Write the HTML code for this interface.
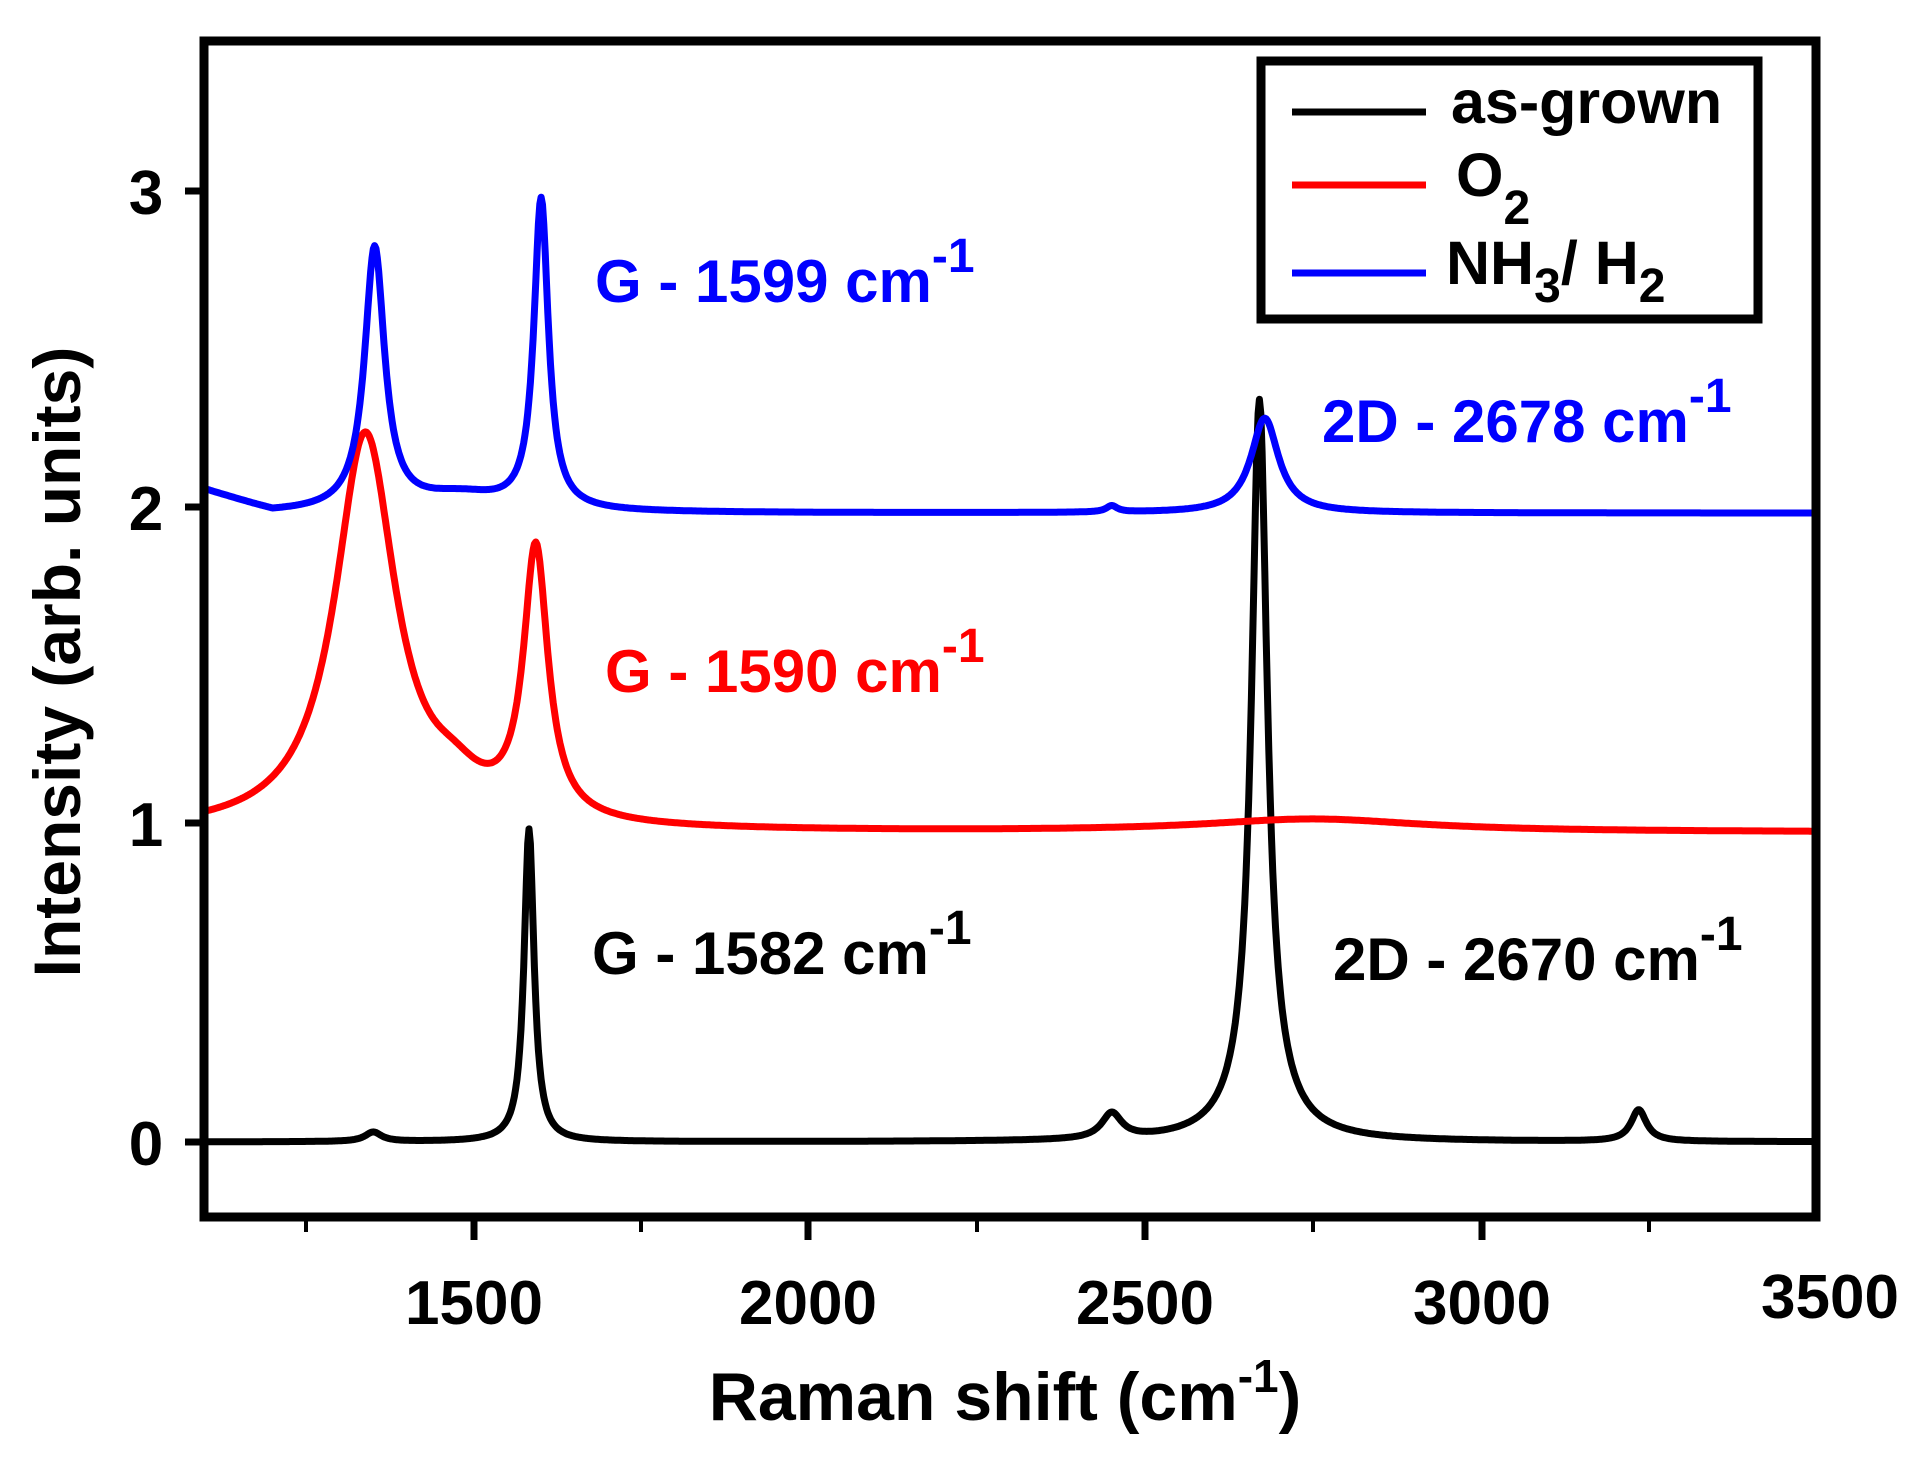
<!DOCTYPE html>
<html><head><meta charset="utf-8">
<style>
html,body{margin:0;padding:0;background:#fff;}
svg{display:block;}
text{font-family:"Liberation Sans",sans-serif;font-weight:bold;}
</style></head>
<body>
<svg id="s" width="1905" height="1457" viewBox="0 0 1905 1457" xmlns="http://www.w3.org/2000/svg">
<rect width="1905" height="1457" fill="#fff"/>
<path id="pk" fill="none" stroke="#000" stroke-width="7" stroke-linejoin="round"/>
<path id="pr" fill="none" stroke="#f00" stroke-width="7" stroke-linejoin="round"/>
<path id="pb" fill="none" stroke="#00f" stroke-width="7" stroke-linejoin="round"/>
<rect x="204" y="41" width="1612" height="1176" fill="none" stroke="#000" stroke-width="9"/>
<g stroke="#000" stroke-width="7">
<line x1="185" y1="1142" x2="204" y2="1142"/>
<line x1="185" y1="823" x2="204" y2="823"/>
<line x1="185" y1="507" x2="204" y2="507"/>
<line x1="185" y1="191" x2="204" y2="191"/>
<line x1="474" y1="1217" x2="474" y2="1240"/>
<line x1="808" y1="1217" x2="808" y2="1240"/>
<line x1="1145" y1="1217" x2="1145" y2="1240"/>
<line x1="1482" y1="1217" x2="1482" y2="1240"/>
</g>
<g stroke="#000" stroke-width="4">
<line x1="306" y1="1217" x2="306" y2="1232"/>
<line x1="641" y1="1217" x2="641" y2="1232"/>
<line x1="977" y1="1217" x2="977" y2="1232"/>
<line x1="1313" y1="1217" x2="1313" y2="1232"/>
<line x1="1649" y1="1217" x2="1649" y2="1232"/>
</g>
<g font-size="62" text-anchor="middle">
<text x="146" y="1165">0</text>
<text x="146" y="846">1</text>
<text x="146" y="530">2</text>
<text x="146" y="214">3</text>
<text x="474" y="1324">1500</text>
<text x="808" y="1324">2000</text>
<text x="1145" y="1324">2500</text>
<text x="1482" y="1324">3000</text>
<text x="1830" y="1318">3500</text>
</g>
<text x="1005" y="1420" font-size="68" text-anchor="middle">Raman shift (cm<tspan dy="-28" font-size="46">-1</tspan><tspan dy="28">)</tspan></text>
<text transform="translate(80,662) rotate(-90)" font-size="66" text-anchor="middle">Intensity (arb. units)</text>
<rect x="1261" y="61" width="497" height="258" fill="#fff" stroke="#000" stroke-width="9"/>
<line x1="1292" y1="112" x2="1426" y2="112" stroke="#000" stroke-width="7"/>
<line x1="1292" y1="185" x2="1426" y2="185" stroke="#f00" stroke-width="7"/>
<line x1="1292" y1="273" x2="1426" y2="273" stroke="#00f" stroke-width="7"/>
<g font-size="61">
<text x="1451" y="123">as-grown</text>
<text x="1456" y="196">O<tspan dy="28" font-size="48">2</tspan></text>
<text x="1446" y="284">NH<tspan dy="18" font-size="48">3</tspan><tspan dy="-18">/ H</tspan><tspan dy="18" font-size="48">2</tspan></text>
</g>
<g font-size="60">
<text x="595" y="302" fill="#00f">G - 1599 cm<tspan dy="-30" font-size="48">-1</tspan></text>
<text x="1322" y="442" fill="#00f">2D - 2678 cm<tspan dy="-30" font-size="48">-1</tspan></text>
<text x="605" y="692" fill="#f00">G - 1590 cm<tspan dy="-30" font-size="48">-1</tspan></text>
<text x="592" y="974" fill="#000">G - 1582 cm<tspan dy="-30" font-size="48">-1</tspan></text>
<text x="1333" y="980" fill="#000">2D - 2670 cm<tspan dy="-30" font-size="48">-1</tspan></text>
</g>
</svg>
<script>
function X(v){return 474+(v-1500)*0.6713;}
function Y(v){return 1142-316*v;}
function L(x,c,h,w){var d=(x-c)/w;return h/(1+d*d);}
function build(f){var s="";for(var v=1100;v<=3500;v+=2){s+=(v==1100?"M":"L")+X(v).toFixed(1)+","+Y(f(v)).toFixed(1);}return s;}
document.getElementById("pk").setAttribute("d",build(function(v){
 return L(v,1582,0.99,9)+L(v,1350,0.03,15)+L(v,2450,0.08,18)+L(v,2670,2.2,14)+L(v,2672,0.15,45)+L(v,3235,0.1,14);}));
document.getElementById("pr").setAttribute("d",build(function(v){
 return 0.98+L(v,1338,1.25,55)+L(v,1592,0.85,22)+L(v,1470,0.08,50)+L(v,2750,0.04,200);}));
document.getElementById("pb").setAttribute("d",build(function(v){
 return 1.99+L(v,1352,0.83,18)+L(v,1600,0.98,13)+L(v,2678,0.3,25)+L(v,2450,0.02,10)+(v<1200?0.07*(1200-v)/100:0)+L(v,1480,0.05,80);}));
</script>
</body></html>
